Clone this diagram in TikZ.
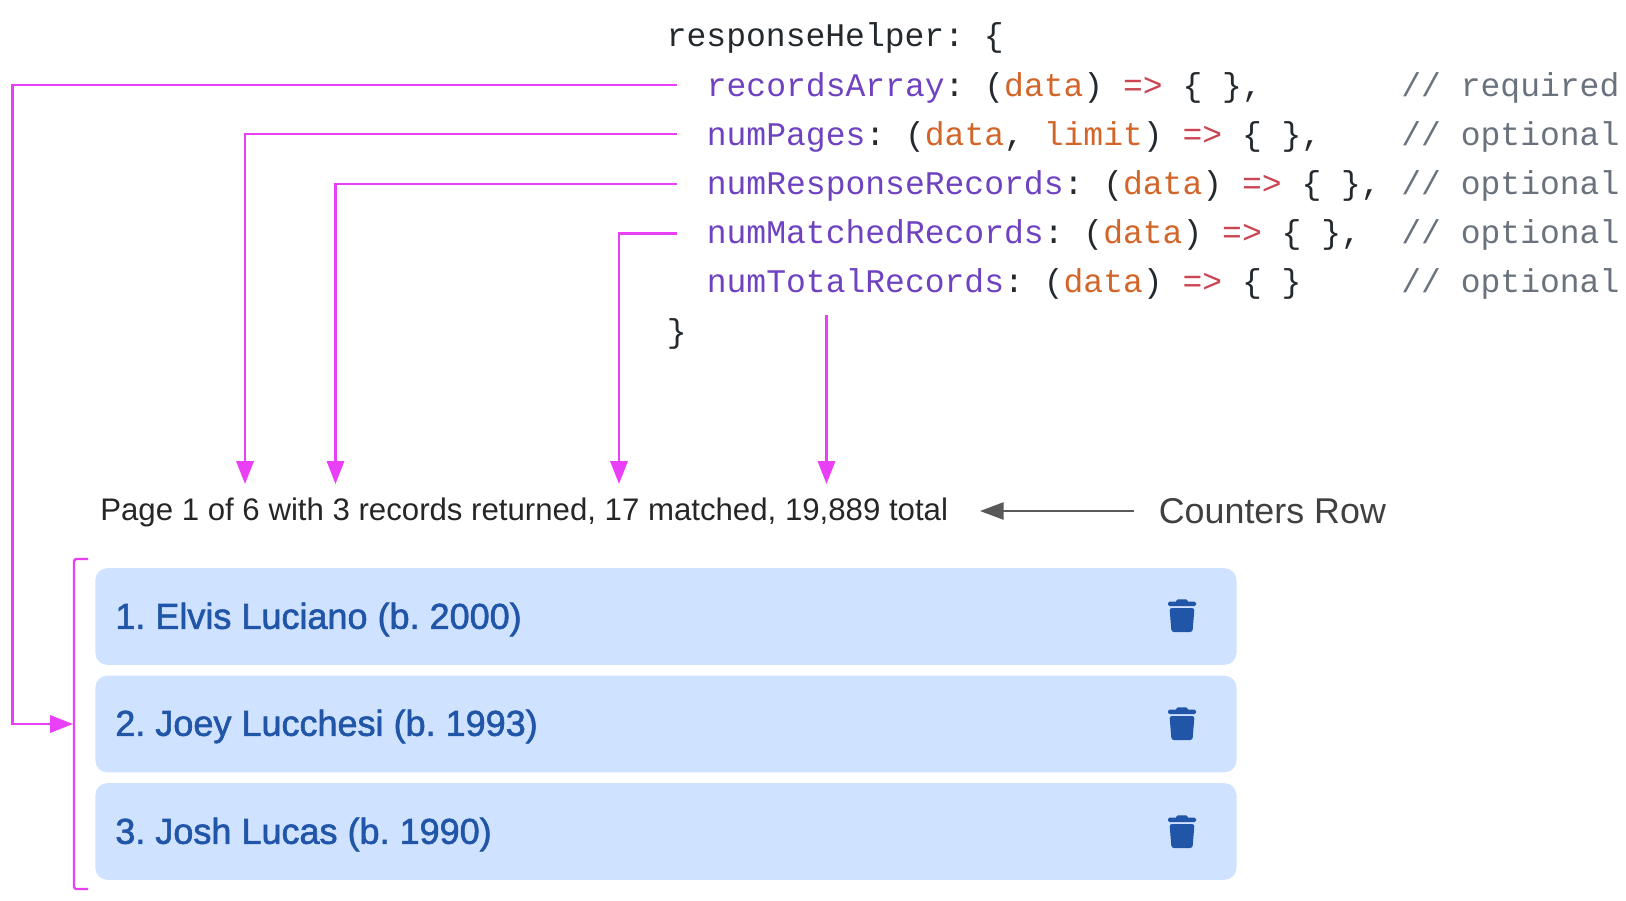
\documentclass[tikz,border=0pt]{standalone}
\usepackage{fontspec}
\usetikzlibrary{arrows.meta}
\setmainfont{Liberation Sans}
\setmonofont{Liberation Mono}
\newfontfamily\rowfont[FakeBold=1.6]{Liberation Sans}
\frenchspacing
\definecolor{linkpink}{HTML}{E93FF6}
\definecolor{notegray}{HTML}{595959}
\definecolor{codeblack}{HTML}{24292E}
\definecolor{codepurple}{HTML}{6F42C1}
\definecolor{codeorange}{HTML}{D2652A}
\definecolor{codered}{HTML}{CB4452}
\definecolor{codegray}{HTML}{6A737D}
\definecolor{rowfill}{HTML}{CFE2FF}
\definecolor{rowtext}{HTML}{2055A8}
\newcommand{\keyname}[1]{\textcolor{codepurple}{#1}}
\newcommand{\argname}[1]{\textcolor{codeorange}{#1}}
\newcommand{\fatarrow}{\textcolor{codered}{=>}}
\tikzset{
  codeline/.style={anchor=base west, inner sep=0pt, text=codeblack,
    font=\ttfamily\fontsize{18.8pt}{22pt}\selectfont},
  commentline/.style={codeline, text=codegray},
  linkarrow/.style={draw=linkpink, line width=1.4pt,
    -{Triangle[length=13pt, width=9.8pt, fill=linkpink]}},
  rowbox/.style={draw=none, fill=rowfill, rounded corners=6.8pt, inner sep=0pt,
    minimum width=649.5pt, minimum height=55pt, anchor=west},
  rowlabel/.style={anchor=base west, inner sep=0pt, text=rowtext,
    font=\rowfont\fontsize{20.5pt}{24pt}\selectfont},
  trash/.pic={
    \fill[rowtext, rounded corners=0.8pt] (-14,-14.3) rectangle (14,-10);
    \fill[rowtext, rounded corners=1pt] (-6,-11) rectangle (6,-16.7);
    \fill[rowtext, rounded corners=1.4pt] (-12.5,-8) -- (12.5,-8) -- (10.5,16) -- (-10.5,16) -- cycle;
  }
}
\begin{document}
\begin{tikzpicture}[x=0.02cm, y=-0.02cm, line cap=butt]
  \useasboundingbox (0,0) rectangle (1626,900);
  % Code block.
  \node[codeline] (helperOpen) at (666.5,46) {responseHelper: \{};
  \node[codeline] (recordsArray) at (706.5,96) {\keyname{recordsArray}: (\argname{data}) \fatarrow{} \{ \},};
  \node[codeline] (numPages) at (706.5,145.5) {\keyname{numPages}: (\argname{data}, \argname{limit}) \fatarrow{} \{ \},};
  \node[codeline] (numResponse) at (706.5,194.5) {\keyname{numResponseRecords}: (\argname{data}) \fatarrow{} \{ \},};
  \node[codeline] (numMatched) at (706.5,243.5) {\keyname{numMatchedRecords}: (\argname{data}) \fatarrow{} \{ \},};
  \node[codeline] (numTotal) at (706.5,292.5) {\keyname{numTotalRecords}: (\argname{data}) \fatarrow{} \{ \}};
  \node[codeline] (helperClose) at (666.5,342) {\}};
  % Comments column.
  \node[commentline] (noteRecords) at (1401,96) {// required};
  \node[commentline] (notePages) at (1401,145.5) {// optional};
  \node[commentline] (noteResponse) at (1401,194.5) {// optional};
  \node[commentline] (noteMatched) at (1401,243.5) {// optional};
  \node[commentline] (noteTotal) at (1401,292.5) {// optional};
  % Counters row.
  \node[anchor=base west, inner sep=0pt, text=black!85, font=\fontsize{17.75pt}{21pt}\selectfont] (counters) at (100,520)
    {Page 1 of 6 with 3 records returned, 17 matched, 19,889 total};
  \node[anchor=base west, inner sep=0pt, text=black!75, font=\fontsize{20.4pt}{24pt}\selectfont] (countersRow) at (1158.5,523.5) {Counters Row};
  % List rows.
  \node[rowbox] (rowOne) at (95,616.5) {};
  \node[rowbox] (rowTwo) at (95,724) {};
  \node[rowbox] (rowThree) at (95,831.5) {};
  \node[rowlabel] (labelOne) at (115,628.8) {1. Elvis Luciano (b. 2000)};
  \node[rowlabel] (labelTwo) at (115,735.8) {2. Joey Lucchesi (b. 1993)};
  \node[rowlabel] (labelThree) at (115,843.8) {3. Josh Lucas (b. 1990)};
  \pic at (1182,616) {trash};
  \pic at (1182,724) {trash};
  \pic at (1182,832) {trash};
  % Arrow ends.
  \coordinate (recordsStart) at (677,85);
  \coordinate (pagesStart) at (677,134);
  \coordinate (responseStart) at (677,184);
  \coordinate (matchedStart) at (677,233.5);
  \coordinate (totalStart) at (826.5,315);
  \coordinate (pagesTip) at (245,484);
  \coordinate (responseTip) at (335.5,484);
  \coordinate (matchedTip) at (619,484);
  \coordinate (totalTip) at (826.5,484);
  \coordinate (cornerLeft) at (12.5,724);
  \coordinate (listTip) at (73,724);
  \coordinate (bracketTop) at (88,559);
  \coordinate (bracketBottom) at (88,889);
  % Arrows from the code to the counters.
  \draw[linkarrow] (pagesStart) -| (pagesTip);
  \draw[linkarrow] (responseStart) -| (responseTip);
  \draw[linkarrow] (matchedStart) -| (matchedTip);
  \draw[linkarrow] (totalStart) -- (totalTip);
  % Arrow to the list, with its bracket.
  \draw[linkarrow] (recordsStart) -| (cornerLeft) -- (listTip);
  \draw[draw=linkpink, line width=1.4pt, rounded corners=1pt] (bracketTop) -- (74,559) -- (74,889) -- (bracketBottom);
  % Counters Row pointer.
  \coordinate (pointerTip) at (980,511);
  \coordinate (pointerStart) at (1134,511);
  \draw[draw=notegray, line width=1.3pt, -{Triangle[length=13.5pt, width=9.8pt, fill=notegray]}] (pointerStart) -- (pointerTip);
\end{tikzpicture}
\end{document}
